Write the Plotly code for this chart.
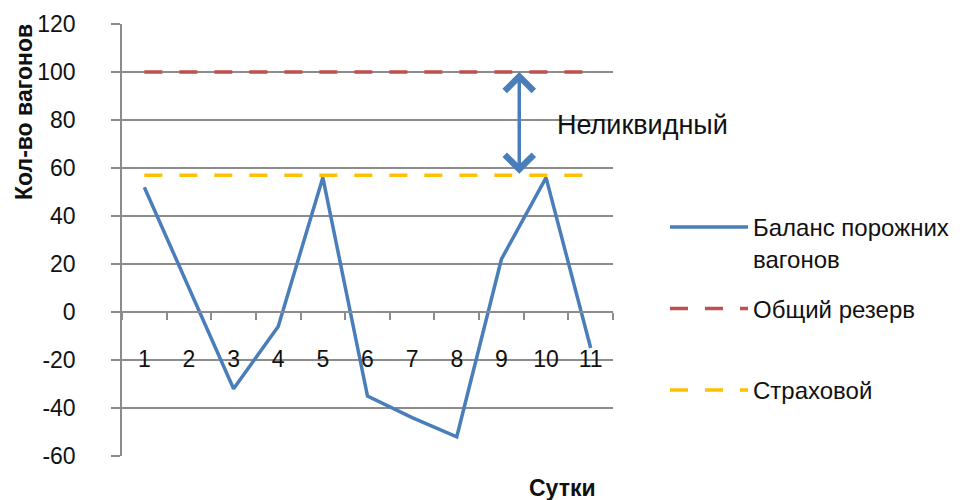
import plotly.graph_objects as go

days = ["1", "2", "3", "4", "5", "6", "7", "8", "9", "10", "11"]
balance = [52, 10, -32, -6, 56, -35, -44, -52, 22, 56, -15]
reserve = [100] * 11
insurance = [57] * 11

series_names = ["Баланс порожних<br>вагонов", "Общий резерв<br> ", "Страховой"]
y_ticks = [-60, -40, -20, 0, 20, 40, 60, 80, 100, 120]
y_tick_text = ["-60", "-40", "-20", "0", "20", "40", "60", "80", "100", "120"]

FONT = "Liberation Sans"
BLUE = "#4A7EBB"
RED = "#C0504D"
YELLOW = "#FFC000"
GRID = "#8C8C8C"
TXT = "#111111"

W, H = 960, 500
# plot area in pixels
PL, PR, PT, PB = 122, 613, 24, 456

fig = go.Figure()
fig.add_trace(go.Scatter(x=days, y=balance, mode="lines", name=series_names[0],
                         line=dict(color=BLUE, width=3.5)))
fig.add_trace(go.Scatter(x=days, y=reserve, mode="lines", name=series_names[1],
                         line=dict(color=RED, width=3.5, dash="18px,17px")))
fig.add_trace(go.Scatter(x=days, y=insurance, mode="lines", name=series_names[2],
                         line=dict(color=YELLOW, width=3.5, dash="18px,17px")))

# double arrow between reserve and insurance
fig.add_annotation(x=8.4, y=reserve[0], ax=8.4, ay=insurance[0],
                   xref="x", yref="y", axref="x", ayref="y",
                   text="", showarrow=True, arrowside="end+start",
                   arrowhead=4, startarrowhead=4, arrowsize=1.6, startarrowsize=1.6,
                   arrowwidth=3.5, arrowcolor=BLUE)
fig.add_annotation(x=642 / W, y=1 - 125 / H, xref="paper", yref="paper",
                   xanchor="center", yanchor="middle",
                   text="Неликвидный", showarrow=False,
                   font=dict(family=FONT, size=27, color=TXT))
# axis titles
fig.add_annotation(x=24 / W, y=1 - 112 / H, xref="paper", yref="paper",
                   xanchor="center", yanchor="middle",
                   text="<b>Кол-во вагонов</b>", textangle=-90, showarrow=False,
                   font=dict(family=FONT, size=23, color=TXT))
fig.add_annotation(x=562 / W, y=1 - 488 / H, xref="paper", yref="paper",
                   xanchor="center", yanchor="middle",
                   text="<b>Сутки</b>", showarrow=False,
                   font=dict(family=FONT, size=23, color=TXT))

fig.update_layout(
    width=W, height=H,
    margin=dict(l=0, r=0, t=0, b=0),
    paper_bgcolor="white", plot_bgcolor="white",
    font=dict(family=FONT, size=23, color=TXT),
    showlegend=True,
    legend=dict(x=665 / W, y=1 - 205 / H, xanchor="left", yanchor="top",
                font=dict(family=FONT, size=24, color=TXT),
                tracegroupgap=16, itemwidth=78, valign="top",
                bgcolor="rgba(0,0,0,0)"),
    xaxis=dict(type="category", domain=[PL / W, PR / W], anchor="free",
               position=1 - 312 / H,
               showline=True, linecolor=GRID, linewidth=1.5,
               ticks="outside", tickson="boundaries", ticklen=7, tickcolor=GRID,
               tickwidth=1.5, ticklabelstandoff=27, showgrid=False,
               range=[-0.5, 10.5], tickfont=dict(size=23), automargin=False),
    yaxis=dict(range=[-60, 120], domain=[1 - PB / H, 1 - PT / H],
               tickvals=y_ticks, ticktext=y_tick_text,
               showgrid=True, gridcolor=GRID,
               gridwidth=1.5, zeroline=False, showline=True, linecolor=GRID,
               linewidth=1.5, ticks="outside", ticklen=9, tickcolor=GRID,
               tickwidth=1.5, ticklabelposition="outside", ticklabelstandoff=31,
               tickfont=dict(size=23), automargin=False),
)
for i in range(3):
    fig.data[i].legendgroup = f"g{i}"

fig.write_html("out.html", config={"displayModeBar": False},
               post_script="document.body.style.margin='0';")
